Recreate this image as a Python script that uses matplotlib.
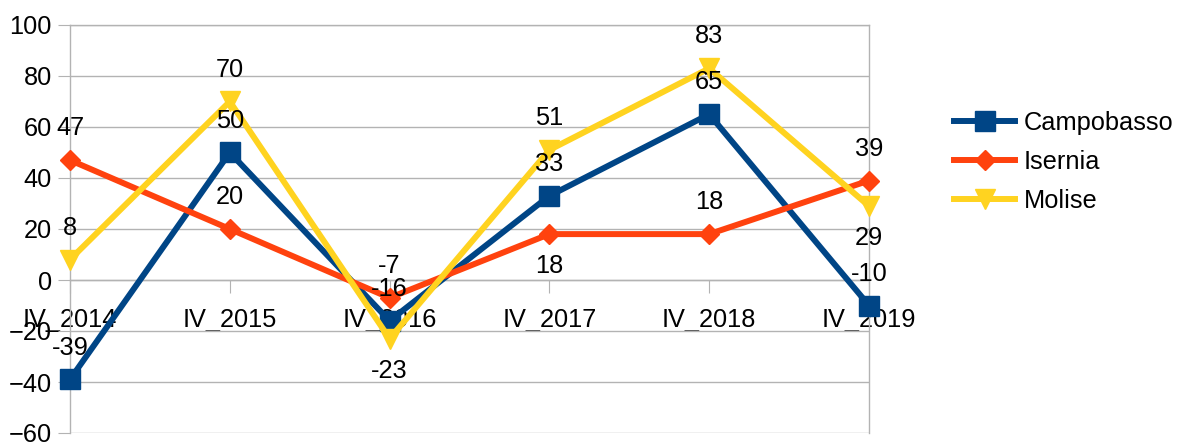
import matplotlib as mpl
import matplotlib.pyplot as plt

mpl.rcParams["font.family"] = ["Liberation Sans", "DejaVu Sans"]

# data
categories = ["IV_2014", "IV_2015", "IV_2016", "IV_2017", "IV_2018", "IV_2019"]
campobasso = [-39, 50, -16, 33, 65, -10]
isernia = [47, 20, -7, 18, 18, 39]
molise = [8, 70, -23, 51, 83, 29]
y_ticks = [-60, -40, -20, 0, 20, 40, 60, 80, 100]

# label placement: +1 above the marker, -1 below
campobasso_side = [1, 1, 1, 1, 1, 1]
isernia_side = [1, 1, 1, -1, 1, 1]
molise_side = [1, 1, -1, 1, 1, -1]

series = [
    ("Campobasso", campobasso, campobasso_side, "#004586", "s", 14),
    ("Isernia", isernia, isernia_side, "#ff420e", "D", 10),
    ("Molise", molise, molise_side, "#ffd320", "v", 15),
]

fs = 18.3
grey = "#b3b3b3"

fig = plt.figure(figsize=(11.79, 4.42), dpi=100)
ax = fig.add_axes([70 / 1179, 9 / 442, 799 / 1179, 408 / 442])

x = list(range(len(categories)))
for name, vals, sides, color, marker, ms in series:
    ax.plot(x, vals, color=color, lw=4.3, marker=marker, markersize=ms,
            label=name, zorder=3, solid_joinstyle="miter", clip_on=False)
    for xi, v, s in zip(x, vals, sides):
        ax.annotate(str(v), (xi, v), xytext=(0, 23 * s), textcoords="offset points",
                    ha="center", va="center", fontsize=fs, zorder=5)

ax.set_xlim(0, len(categories) - 1)
ax.set_ylim(-60, 100)
ax.set_yticks(y_ticks)
ax.set_xticks(x)
ax.set_xticklabels(categories)

ax.grid(axis="y", color=grey, lw=1, zorder=0)
for side in ["left", "right", "top", "bottom"]:
    ax.spines[side].set_color(grey)
    ax.spines[side].set_linewidth(1)
ax.spines["bottom"].set_position(("data", 0))
ax.spines["bottom"].set_zorder(1)

ax.tick_params(axis="y", direction="out", length=9, color=grey, labelsize=fs, pad=4)
ax.tick_params(axis="x", direction="out", length=9, color=grey, labelsize=fs, pad=11)
for lbl in ax.get_xticklabels():
    lbl.set_zorder(6)

ax.legend(loc="center left", bbox_to_anchor=(954 / 1179, 1 - 162 / 442),
          bbox_transform=fig.transFigure, frameon=False, fontsize=fs,
          handlelength=2.4, handletextpad=0.35, labelspacing=0.6,
          borderaxespad=0, borderpad=0)

fig.savefig("out.png", dpi=100)
